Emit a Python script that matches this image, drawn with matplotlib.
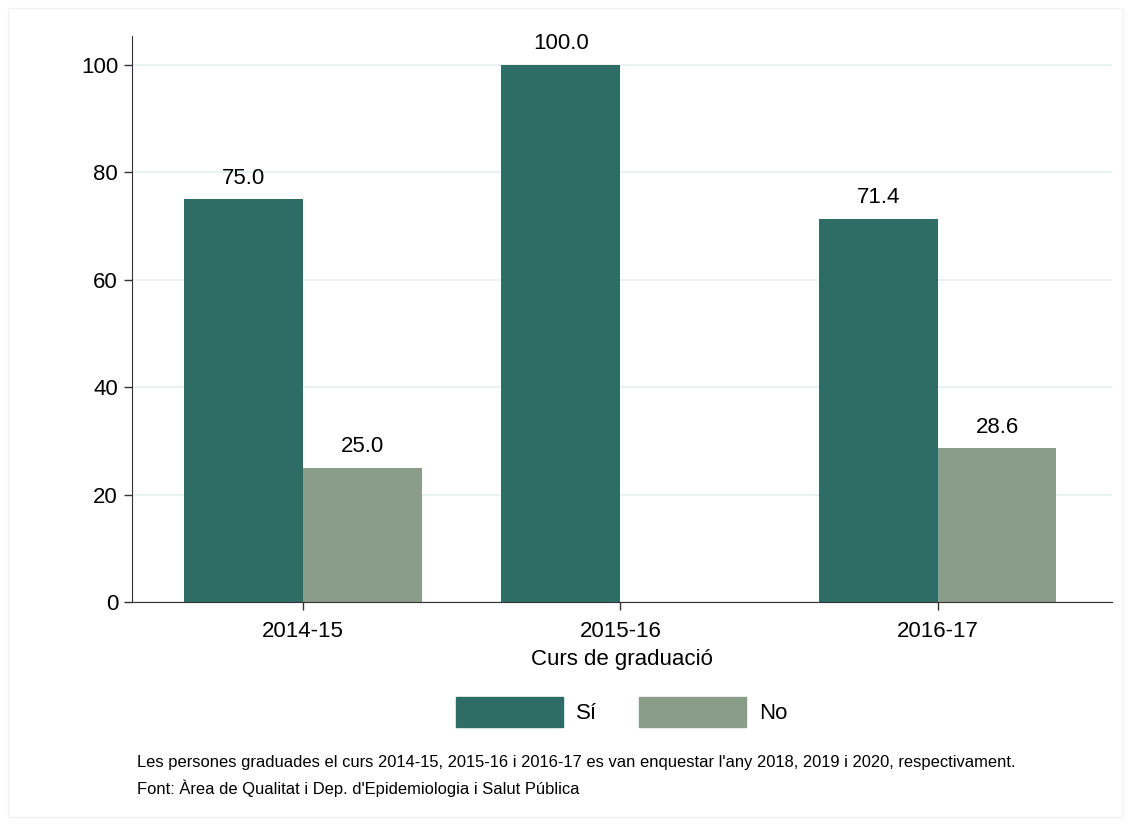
import matplotlib

matplotlib.use("Agg")
import matplotlib.pyplot as plt
import numpy as np
from matplotlib.patches import Patch

plt.rcParams["font.family"] = ["Liberation Sans", "DejaVu Sans"]

# --- data -----------------------------------------------------------------
courses = ["2014-15", "2015-16", "2016-17"]
si_vals = [75.0, 100.0, 71.4]
no_vals = [25.0, None, 28.6]
y_ticks = [0, 20, 40, 60, 80, 100]

C_SI = "#2e6d65"
C_NO = "#8a9d88"

fig = plt.figure(figsize=(11.31, 8.25), dpi=100)
ax = fig.add_axes([132 / 1131, 1 - 602 / 825, (1112 - 132) / 1131, (602 - 36) / 825])

x = np.arange(len(courses))
w = 0.375
ax.bar(x - w / 2, si_vals, width=w, color=C_SI)
no_h = [v if v is not None else 0 for v in no_vals]
ax.bar(x + w / 2, no_h, width=w, color=C_NO)

for xi, v in zip(x, si_vals):
    ax.text(xi - w / 2, v + 2.0, f"{v:.1f}", ha="center", va="bottom", fontsize=16)
for xi, v in zip(x, no_vals):
    if v is not None:
        ax.text(xi + w / 2, v + 2.0, f"{v:.1f}", ha="center", va="bottom", fontsize=16)

ax.set_xlim(-0.54, 2.55)
ax.set_ylim(0, 105.4)
ax.set_yticks(y_ticks)
ax.set_xticks(x, courses)
ax.tick_params(axis="both", labelsize=16, length=6, width=1, color="#333333")
ax.tick_params(axis="y", pad=4)
ax.tick_params(axis="x", pad=8)
ax.grid(axis="y", color="#e8eff1", lw=1.2)
ax.set_axisbelow(True)
for s in ["top", "right"]:
    ax.spines[s].set_visible(False)
for s in ["left", "bottom"]:
    ax.spines[s].set_color("#333333")
ax.set_xlabel("Curs de graduació", fontsize=16, labelpad=5)

handles = [Patch(color=C_SI, label="Sí"), Patch(color=C_NO, label="No")]
fig.legend(handles=handles, loc="center", bbox_to_anchor=(622 / 1131, 1 - 712 / 825),
           ncol=2, frameon=False, fontsize=16, handlelength=4.8, handleheight=1.7,
           handletextpad=0.6, columnspacing=1.9)

fig.text(137 / 1131, 1 - 762 / 825,
         "Les persones graduades el curs 2014-15, 2015-16 i 2016-17 es van enquestar "
         "l'any 2018, 2019 i 2020, respectivament.", fontsize=11.85, va="center")
fig.text(137 / 1131, 1 - 788 / 825,
         "Font: Àrea de Qualitat i Dep. d'Epidemiologia i Salut Pública",
         fontsize=11.85, va="center")

fig.patches.append(plt.Rectangle((8 / 1131, 8 / 825), 1 - 16 / 1131, 1 - 16 / 825,
                                 transform=fig.transFigure, fill=False,
                                 ec="#f0f2f2", lw=1))

fig.savefig("out.png", dpi=100)
